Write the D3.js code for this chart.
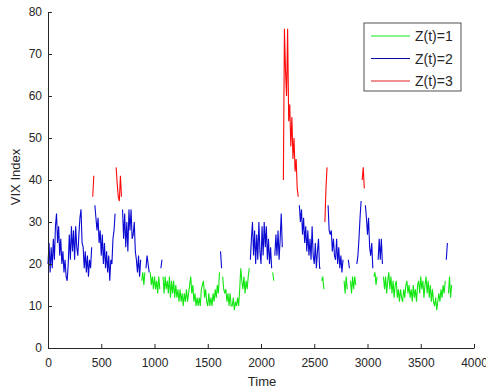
<!DOCTYPE html>
<html>

<head>
    <meta charset="utf-8">
    <title>VIX Regimes</title>
    <script type="text/javascript" src="https://cdn.jsdelivr.net/npm/d3@7"></script>
    <style>
        body { margin: 0; background: #fff; }
        svg { display: block; font-family: "Liberation Sans", Arial, Helvetica, sans-serif; }
        .axis path, .axis line { stroke: #262626; }
        .axis text { fill: #262626; font-size: 12px; }
    </style>
</head>

<body>

    <script type="text/javascript">
        // VIX, one value every 10 time steps
        let timeStep = 10;
        let vix = [
            20, 25, 18, 24, 19, 26, 21, 29, 32, 25,
            29, 22, 26, 20, 23, 18, 21, 17, 16, 20,
            27, 21, 29, 23, 28, 21, 29, 24, 22, 27,
            31, 33, 25, 24, 19, 23, 18, 22, 17, 21,
            19, 24, 36, 41, 34, 31, 28, 31, 25, 28,
            22, 27, 20, 25, 19, 23, 18, 22, 16, 21,
            20, 26, 28, 32, 43, 39, 36, 35, 41, 36,
            33, 26, 32, 24, 30, 23, 33, 28, 33, 26,
            27, 30, 23, 21, 18, 22, 17, 21, 16, 18,
            15, 18, 19, 22, 20, 18, 18, 15, 17, 14,
            17, 14, 16, 13, 17, 14, 19, 21, 17, 13,
            17, 14, 16, 13, 17, 12, 16, 13, 16, 12,
            15, 12, 14, 11, 14, 11, 13, 10, 13, 11,
            14, 11, 13, 15, 17, 13, 15, 11, 13, 10,
            12, 10, 12, 10, 14, 15, 16, 12, 14, 11,
            10, 13, 10, 12, 10, 13, 11, 14, 12, 15,
            13, 18, 23, 19, 17, 14, 13, 14, 11, 13,
            10, 13, 10, 10, 12, 9, 11, 10, 12, 10,
            14, 19, 16, 14, 17, 13, 16, 14, 17, 19,
            21, 26, 30, 22, 28, 20, 27, 21, 30, 23,
            20, 29, 22, 30, 24, 29, 21, 26, 20, 24,
            19, 18, 16, 22, 27, 22, 28, 21, 26, 32,
            24, 40, 76, 66, 60, 76, 54, 58, 48, 55,
            45, 50, 42, 45, 38, 36, 34, 30, 33, 27,
            31, 25, 29, 23, 28, 22, 26, 21, 29, 22,
            20, 25, 19, 23, 26, 19, 19, 16, 17, 14,
            30, 38, 43, 34, 28, 27, 28, 23, 26, 22,
            21, 26, 20, 24, 19, 22, 18, 21, 16, 13,
            17, 14, 21, 19, 16, 13, 17, 14, 17, 15,
            20, 22, 26, 31, 35, 40, 43, 38, 34, 31,
            27, 31, 24, 22, 25, 19, 17, 18, 15, 17,
            21, 26, 21, 26, 20, 17, 14, 17, 13, 16,
            18, 14, 17, 13, 16, 12, 15, 16, 12, 14,
            11, 14, 12, 11, 14, 12, 15, 16, 13, 15,
            12, 14, 11, 15, 12, 14, 11, 15, 16, 13,
            17, 14, 16, 12, 15, 17, 13, 16, 12, 15,
            11, 14, 11, 10, 12, 9, 11, 13, 11, 14,
            12, 15, 13, 16, 21, 25, 13, 17, 12, 15
        ];

        // regime runs: state holds from regimeStart[i] until the next start
        let regimeStart = [0, 420, 440, 640, 700, 880, 920, 960, 1060, 1080, 1620, 1640,
            1900, 2110, 2130, 2210, 2360, 2570, 2600, 2630, 2780, 2820, 2840, 2900,
            2950, 2980, 3060, 3100, 3150, 3740, 3760];
        let regimeState = [2, 3, 2, 3, 2, 1, 2, 1, 2, 1, 2, 1,
            2, 1, 2, 3, 2, 1, 3, 2, 1, 2, 1, 2,
            3, 2, 1, 2, 1, 2, 1];

        let legendLabels = ["Z(t)=1", "Z(t)=2", "Z(t)=3"];
        let xTicks = [0, 500, 1000, 1500, 2000, 2500, 3000, 3500, 4000];
        let yTicks = [0, 10, 20, 30, 40, 50, 60, 70, 80];

        let colors = { 1: "#14e614", 2: "#0a0ad2", 3: "#ff0a0a" };
        let legendColors = ["#14e614", "#0a0a9a", "#e02020"];

        let _width = 486, _height = 388,
            _margins = { left: 48, top: 12, right: 12, bottom: 40 };

        function stateAt(t) {
            let s = regimeState[0];
            for (let i = 0; i < regimeStart.length; i++) {
                if (t >= regimeStart[i]) s = regimeState[i];
            }
            return s;
        }

        let data = vix.map(function (v, i) {
            let t = i * timeStep;
            return { t: t, v: v, z: stateAt(t) };
        });

        let _x = d3.scaleLinear().domain([0, 4000]).range([_margins.left, _width - _margins.right]);
        let _y = d3.scaleLinear().domain([0, 80]).range([_height - _margins.bottom, _margins.top]);

        let svg = d3.select("body").append("svg")
            .attr("width", _width)
            .attr("height", _height);

        // one path per regime, broken where another regime holds
        [1, 2, 3].forEach(function (k) {
            let line = d3.line()
                .defined(function (d) { return d.z === k; })
                .x(function (d) { return _x(d.t); })
                .y(function (d) { return _y(d.v); });

            svg.append("path")
                .datum(data)
                .attr("fill", "none")
                .attr("stroke", colors[k])
                .attr("stroke-width", 1.1)
                .attr("d", line);
        });

        let xAxis = d3.axisBottom(_x).tickValues(xTicks).tickFormat(d3.format("d"))
            .tickSizeInner(-4).tickSizeOuter(0).tickPadding(10);
        let yAxis = d3.axisLeft(_y).tickValues(yTicks).tickFormat(d3.format("d"))
            .tickSizeInner(-4).tickSizeOuter(0).tickPadding(6);

        svg.append("g")
            .attr("class", "x axis")
            .attr("transform", "translate(0," + (_height - _margins.bottom) + ")")
            .call(xAxis);

        svg.append("g")
            .attr("class", "y axis")
            .attr("transform", "translate(" + _margins.left + ",0)")
            .call(yAxis);

        svg.append("text")
            .attr("x", 262)
            .attr("y", _height - 2)
            .attr("text-anchor", "middle")
            .attr("fill", "#262626")
            .attr("font-size", 13)
            .text("Time");

        svg.append("text")
            .attr("transform", "translate(20,177) rotate(-90)")
            .attr("text-anchor", "middle")
            .attr("fill", "#262626")
            .attr("font-size", 13)
            .text("VIX Index");

        // legend
        let legend = svg.append("g").attr("transform", "translate(364,23)");
        legend.append("rect")
            .attr("width", 97)
            .attr("height", 68)
            .attr("fill", "#fff")
            .attr("stroke", "#262626")
            .attr("stroke-width", 0.8);

        legendLabels.forEach(function (label, i) {
            let yy = 13 + i * 22.5;
            legend.append("line")
                .attr("x1", 7).attr("x2", 46)
                .attr("y1", yy).attr("y2", yy)
                .attr("stroke", legendColors[i])
                .attr("stroke-width", 1);
            legend.append("text")
                .attr("x", 51)
                .attr("y", yy + 5)
                .attr("fill", "#262626")
                .attr("font-size", 14)
                .text(label);
        });
    </script>

</body>

</html>
